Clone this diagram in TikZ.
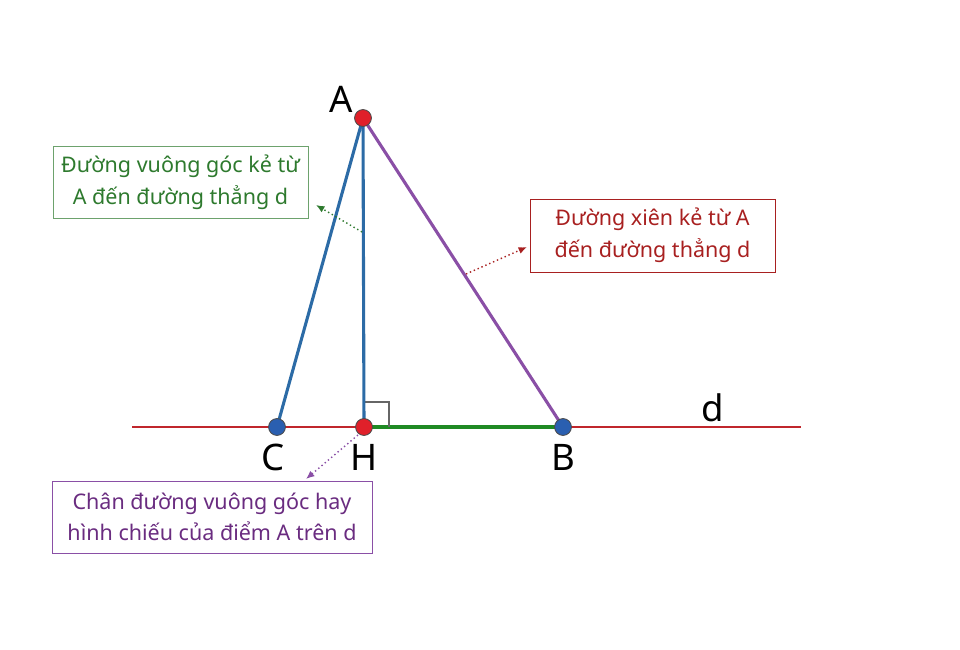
\documentclass[tikz,border=0pt]{standalone}
\usepackage{fontspec}
\setmainfont{Noto Sans}
\usetikzlibrary{arrows.meta}
\definecolor{lblue}{HTML}{2C6BA6}
\definecolor{lpurple}{HTML}{8A4FA6}
\definecolor{lred}{HTML}{C0262C}
\definecolor{lgreen}{HTML}{1F8A24}
\definecolor{tgreen}{HTML}{2E7A2E}
\definecolor{tred}{HTML}{A82020}
\definecolor{tpurple}{HTML}{6A2C80}
\definecolor{dred}{HTML}{E0202A}
\definecolor{dblue}{HTML}{2A5FB0}
\tikzset{
  pt/.style={circle,draw=black!70,line width=0.6pt,inner sep=0pt,minimum size=12pt},
  lbl/.style={font=\fontsize{26}{26}\selectfont},
  box/.style={draw,line width=0.7pt,align=center,inner xsep=4pt,inner ysep=6pt,font=\fontsize{15.3}{22.5}\selectfont},
  ptr/.style={dotted,line width=1pt,-{Latex[length=6pt,width=5pt]}}
}
\begin{document}
\begin{tikzpicture}[x=0.025cm,y=-0.025cm]
\useasboundingbox (0,0) rectangle (960,650);
\coordinate (A) at (363,118);
\coordinate (C) at (277,427);
\coordinate (H) at (364,427);
\coordinate (B) at (563,427);
\coordinate (dl) at (132,427);
\coordinate (dr) at (801,427);
% line d
\draw[lred,line width=1.6pt] (dl) -- (dr);
\draw[lgreen,line width=3.5pt] (H) -- (B);
% right angle
\draw[gray!80!black,line width=0.8pt] (364,402) -- (389,402) -- (389,427);
% segments
\draw[lblue,line width=2.2pt] (A) -- (C);
\draw[lblue,line width=2.2pt] (A) -- (H);
\draw[lpurple,line width=2.2pt] (A) -- (B);
% points
\node[pt,fill=dred] (pA) at (A) {};
\node[pt,fill=dblue] (pC) at (C) {};
\node[pt,fill=dred] (pH) at (H) {};
\node[pt,fill=dblue] (pB) at (B) {};
% labels
\node[lbl] (lA) at (341,99) {A};
\node[lbl] (lC) at (273,457) {C};
\node[lbl] (lH) at (364,457) {H};
\node[lbl] (lB) at (563,457) {B};
\node[lbl] (ld) at (713,408) {d};
% boxes
\node[box,draw=tgreen!70,text=tgreen,minimum width=255*0.025cm,minimum height=72*0.025cm] (g) at (180.5,182) {Đường vuông góc kẻ từ\\A đến đường thẳng d};
\node[box,draw=tred,text=tred,minimum width=245*0.025cm,minimum height=73*0.025cm] (r) at (652.5,235.5) {Đường xiên kẻ từ A\\đến đường thẳng d};
\node[box,draw=lpurple,text=tpurple,minimum width=320*0.025cm,minimum height=72*0.025cm] (p) at (212,517) {Chân đường vuông góc hay\\hình chiếu của điểm A trên d};
% pointers
\coordinate (s1) at (362,232);
\coordinate (e1) at (316,205);
\coordinate (s2) at (466,274);
\coordinate (e2) at (527,247);
\coordinate (s3) at (358,435);
\coordinate (e3) at (306,479);
\draw[ptr,tgreen] (s1) -- (e1);
\draw[ptr,tred] (s2) -- (e2);
\draw[ptr,lpurple] (s3) -- (e3);
\end{tikzpicture}
\end{document}
